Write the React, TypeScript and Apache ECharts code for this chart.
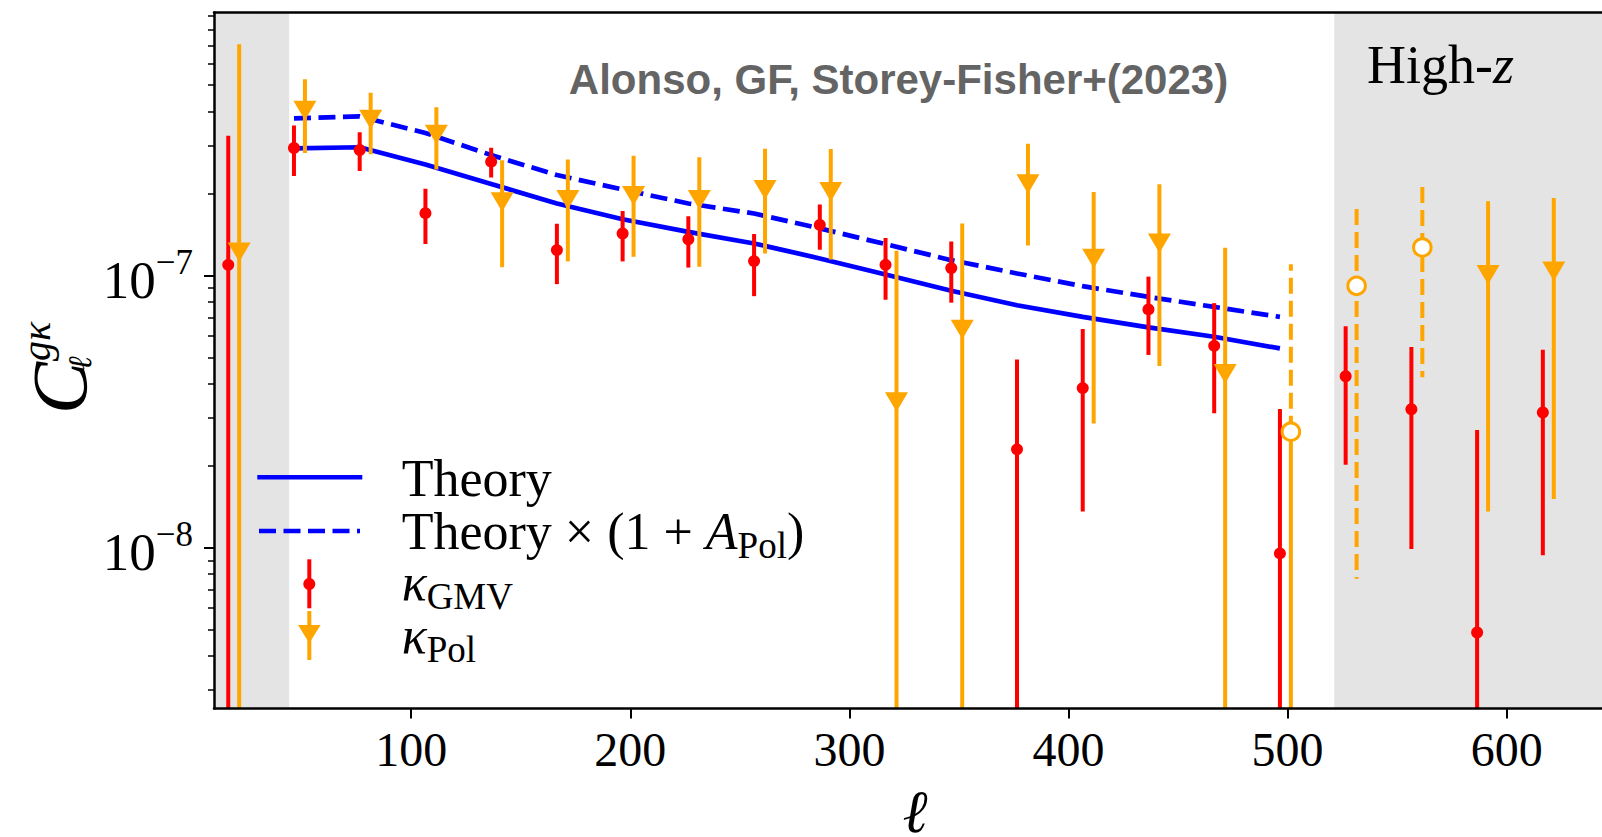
import React, { useEffect, useRef } from "react";
import * as echarts from "echarts";

const SERIF = '"Liberation Serif", "DejaVu Serif", serif';
const SANS = '"Liberation Sans", Arial, sans-serif';

// ---------- data ----------
const ellTheory = [46.5, 76.5, 106.5, 136.5, 166.5, 196.5, 226.5, 256.5, 286.5, 316.5, 346.5, 376.5, 406.5, 436.5, 466.5, 496.5];
const theory = [2.93e-7, 2.96e-7, 2.56e-7, 2.17e-7, 1.84e-7, 1.61e-7, 1.447e-7, 1.312e-7, 1.156e-7, 1.009e-7, 8.79e-8, 7.78e-8, 7.05e-8, 6.45e-8, 5.96e-8, 5.4e-8];
const theoryPol = [3.78e-7, 3.84e-7, 3.34e-7, 2.77e-7, 2.34e-7, 2.07e-7, 1.84e-7, 1.69e-7, 1.49e-7, 1.304e-7, 1.139e-7, 1.018e-7, 9.14e-8, 8.35e-8, 7.67e-8, 7.05e-8];

const ellGMV = [16.5, 46.5, 76.5, 106.5, 136.5, 166.5, 196.5, 226.5, 256.5, 286.5, 316.5, 346.5, 376.5, 406.5, 436.5, 466.5, 496.5, 526.5, 556.5, 586.5, 616.5];
const gmvVal = [1.095e-7, 2.94e-7, 2.89e-7, 1.695e-7, 2.62e-7, 1.24e-7, 1.427e-7, 1.36e-7, 1.13e-7, 1.535e-7, 1.095e-7, 1.065e-7, 2.3e-8, 3.86e-8, 7.51e-8, 5.52e-8, 9.54e-9, 4.27e-8, 3.23e-8, 4.89e-9, 3.14e-8];
const gmvErr = [2.17e-7, 6.2e-8, 4.7e-8, 3.9e-8, 3.3e-8, 3.1e-8, 3.0e-8, 2.9e-8, 2.9e-8, 2.9e-8, 2.8e-8, 2.7e-8, 2.62e-8, 2.5e-8, 2.4e-8, 2.4e-8, 2.28e-8, 2.25e-8, 2.24e-8, 2.22e-8, 2.2e-8];

const ellPol = [21.5, 51.5, 81.5, 111.5, 141.5, 171.5, 201.5, 231.5, 261.5, 291.5, 321.5, 351.5, 381.5, 411.5, 441.5, 471.5, 501.5, 531.5, 561.5, 591.5, 621.5];
// negative values are drawn as |C| with open markers and dashed bars
const polVal = [1.219e-7, 4.04e-7, 3.74e-7, 3.3e-7, 1.863e-7, 1.897e-7, 1.962e-7, 1.897e-7, 2.064e-7, 2.03e-7, 3.43e-8, 6.34e-8, 2.17e-7, 1.156e-7, 1.315e-7, 4.36e-8, -2.67e-8, -9.17e-8, -1.268e-7, 1.006e-7, 1.038e-7];
const polErr = [5.85e-7, 1.22e-7, 9.5e-8, 8.5e-8, 7.9e-8, 7.7e-8, 7.9e-8, 8.2e-8, 8.6e-8, 8.85e-8, 8.9e-8, 9.2e-8, 8.8e-8, 8.7e-8, 8.5e-8, 8.3e-8, 8.34e-8, 8.4e-8, 8.45e-8, 8.7e-8, 8.87e-8];

const shadeRanges = [[10, 44.3], [521.3, 660]];
const xTicks = [100, 200, 300, 400, 500, 600];
const yMajor = [1e-8, 1e-7];
const yMinor = [3e-9, 4e-9, 5e-9, 6e-9, 7e-9, 8e-9, 9e-9, 2e-8, 3e-8, 4e-8, 5e-8, 6e-8, 7e-8, 8e-8, 9e-8, 2e-7, 3e-7, 4e-7, 5e-7, 6e-7, 7e-7, 8e-7, 9e-7];

const X_MIN = 10, X_MAX = 643.5, Y_MIN = 2.57e-9, Y_MAX = 9.25e-7;

const BLUE = "#0000ff", RED = "#ff0000", ORANGE = "#ffa500";

function errData(ell: number[], val: number[], err: number[]) {
  return ell.map((l, i) => {
    const v = Math.abs(val[i]);
    const lo = v - err[i];
    return [l, Math.max(lo, Y_MIN), Math.min(v + err[i], Y_MAX), val[i] < 0 ? 1 : 0, v, lo <= Y_MIN ? 1 : 0];
  });
}

function errRender(color: string) {
  return (params: any, api: any) => {
    const x = api.value(0);
    const lo = api.value(1);
    const hi = api.value(2);
    const neg = api.value(3);
    const mid = api.value(4);
    const clipped = api.value(5);
    const pLo = api.coord([x, lo]);
    const pHi = api.coord([x, hi]);
    const pMid = api.coord([x, mid]);
    const base = { stroke: color, lineWidth: 4, lineCap: "butt" };
    const dash = [16, 7];
    const children: any[] = [];
    if (!neg) {
      children.push({ type: "line", shape: { x1: pLo[0], y1: pLo[1], x2: pHi[0], y2: pHi[1] }, style: base });
    } else if (clipped) {
      children.push({ type: "line", shape: { x1: pMid[0], y1: pMid[1], x2: pHi[0], y2: pHi[1] }, style: { ...base, lineDash: dash } });
      children.push({ type: "line", shape: { x1: pLo[0], y1: pLo[1], x2: pMid[0], y2: pMid[1] }, style: base });
    } else {
      children.push({ type: "line", shape: { x1: pHi[0], y1: pHi[1], x2: pLo[0], y2: pLo[1] }, style: { ...base, lineDash: dash } });
    }
    return { type: "group", children };
  };
}

function buildOption(): any {
  const theoryData = ellTheory.map((l, i) => [l, theory[i]]);
  const theoryPolData = ellTheory.map((l, i) => [l, theoryPol[i]]);
  const gmvPts = ellGMV.map((l, i) => [l, gmvVal[i]]);
  const polPos = ellPol.map((l, i) => [l, polVal[i]]).filter((d) => d[1] > 0);
  const polNeg = ellPol.map((l, i) => [l, Math.abs(polVal[i]), polVal[i]]).filter((d) => d[2] < 0).map((d) => [d[0], d[1]]);

  const axisLineStyle = { color: "#000", width: 2.5 };
  const txt = (o: any) => ({ fill: "#000", fontFamily: SERIF, ...o });
  const legRich = {
    m: txt({ fontSize: 52, lineHeight: 64 }),
    i: txt({ fontSize: 52, lineHeight: 64, fontStyle: "italic" }),
    s: txt({ fontSize: 37, lineHeight: 37, verticalAlign: "bottom" }),
  };

  return {
    animation: false,
    backgroundColor: "#fff",
    grid: { left: 214, right: 0, top: 12.5, bottom: 128.5, containLabel: false },
    xAxis: [
      {
        type: "value", min: X_MIN, max: X_MAX, position: "bottom", z: 10,
        axisLine: { show: true, onZero: false, lineStyle: axisLineStyle },
        axisTick: { show: true, customValues: xTicks, length: 10, lineStyle: { color: "#000", width: 2 } },
        axisLabel: { show: true, customValues: xTicks, margin: 17, fontFamily: SERIF, fontSize: 48, lineHeight: 48, color: "#000" },
        splitLine: { show: false },
      },
      {
        type: "value", min: X_MIN, max: X_MAX, position: "top", z: 10,
        axisLine: { show: true, onZero: false, lineStyle: axisLineStyle },
        axisTick: { show: false }, axisLabel: { show: false }, splitLine: { show: false },
      },
    ],
    yAxis: [
      {
        type: "log", logBase: 10, min: Y_MIN, max: Y_MAX, position: "left", z: 10,
        axisLine: { show: true, onZero: false, lineStyle: axisLineStyle },
        axisTick: { show: true, customValues: yMajor, length: 10, lineStyle: { color: "#000", width: 2 } },
        axisLabel: {
          show: true, customValues: yMajor, margin: 21,
          formatter: (v: number) => `{b|10}{s|\u2212${Math.abs(Math.round(Math.log10(v)))}}`,
          rich: {
            b: { fontFamily: SERIF, fontSize: 53, lineHeight: 62, verticalAlign: "bottom", color: "#000" },
            s: { fontFamily: SERIF, fontSize: 35, lineHeight: 34, verticalAlign: "top", color: "#000" },
          },
        },
        splitLine: { show: false }, minorTick: { show: false },
      },
      {
        type: "log", logBase: 10, min: Y_MIN, max: Y_MAX, position: "left", z: 10,
        axisLine: { show: false },
        axisTick: { show: true, customValues: yMinor, length: 6, lineStyle: { color: "#000", width: 1.5 } },
        axisLabel: { show: false }, splitLine: { show: false },
      },
    ],
    series: [
      {
        type: "custom", name: "shade", z: 1, silent: true, clip: true,
        data: shadeRanges,
        dimensions: ["x0", "x1"],
        encode: { x: [0, 1] },
        renderItem: (params: any, api: any) => {
          const cs = params.coordSys;
          const x1 = api.coord([api.value(0), Y_MAX])[0];
          const x2 = api.coord([api.value(1), Y_MAX])[0];
          const r = echarts.graphic.clipRectByRect({ x: x1, y: cs.y, width: x2 - x1, height: cs.height }, cs);
          return r ? { type: "rect", shape: r, style: { fill: "#e4e4e4" } } : null;
        },
      },
      {
        type: "line", name: "Theory", data: theoryData, symbol: "none", z: 3,
        lineStyle: { color: BLUE, width: 4.7 },
      },
      {
        type: "line", name: "TheoryPol", data: theoryPolData, symbol: "none", z: 3,
        lineStyle: { color: BLUE, width: 4.7, type: [17, 7.5] },
      },
      {
        type: "custom", name: "gmvErr", z: 4, clip: true,
        data: errData(ellGMV, gmvVal, gmvErr),
        dimensions: ["x", "lo", "hi", "neg", "mid", "clip"],
        encode: { x: 0, y: [1, 2] },
        renderItem: errRender(RED),
      },
      {
        type: "scatter", name: "gmv", data: gmvPts, z: 5, symbol: "circle", symbolSize: 12,
        itemStyle: { color: RED, opacity: 1 },
      },
      {
        type: "custom", name: "polErr", z: 6, clip: true,
        data: errData(ellPol, polVal, polErr),
        dimensions: ["x", "lo", "hi", "neg", "mid", "clip"],
        encode: { x: 0, y: [1, 2] },
        renderItem: errRender(ORANGE),
      },
      {
        type: "scatter", name: "pol", data: polPos, z: 7, symbol: "triangle", symbolRotate: 180, symbolSize: [23, 19.5],
        itemStyle: { color: ORANGE, opacity: 1 },
      },
      {
        type: "scatter", name: "polNeg", data: polNeg, z: 7, symbol: "circle", symbolSize: 17.5,
        itemStyle: { color: "#ffffff", borderColor: ORANGE, borderWidth: 3, opacity: 1 },
      },
    ],
    graphic: [
      {
        type: "text", x: 898.5, y: 79.1, z: 20,
        style: { text: "Alonso, GF, Storey-Fisher+(2023)", fontFamily: SANS, fontWeight: "bold", fontSize: 42, fill: "#646464", align: "center", verticalAlign: "middle" },
      },
      {
        type: "text", x: 1367, y: 64.5, z: 20,
        style: {
          text: "{r|High-}{i|z}", align: "left", verticalAlign: "middle",
          rich: {
            r: txt({ fontSize: 54, lineHeight: 64 }),
            i: txt({ fontSize: 54, lineHeight: 64, fontStyle: "italic" }),
          },
        },
      },
      // y-axis label C_ell^{g kappa}
      {
        type: "group", x: 86, y: 414, rotation: Math.PI / 2, z: 20,
        children: [
          { type: "text", x: 0, y: -26.3, style: txt({ text: "C", fontSize: 78, fontStyle: "italic", align: "left", verticalAlign: "middle" }) },
          { type: "text", x: 53, y: -50, style: txt({ text: "g\u03ba", fontSize: 40, fontStyle: "italic", align: "left", verticalAlign: "middle" }) },
          { type: "text", x: 44, y: -6, style: txt({ text: "\u2113", fontSize: 33, fontStyle: "italic", align: "left", verticalAlign: "middle" }) },
        ],
      },
      // x-axis label
      { type: "text", x: 915, y: 812, z: 20, style: txt({ text: "\u2113", fontSize: 60, fontStyle: "italic", align: "center", verticalAlign: "middle" }) },
      // legend
      { type: "line", z: 20, shape: { x1: 257.3, y1: 477.3, x2: 362.3, y2: 477.3 }, style: { stroke: BLUE, lineWidth: 4.5 } },
      { type: "line", z: 20, shape: { x1: 259, y1: 531, x2: 360, y2: 531 }, style: { stroke: BLUE, lineWidth: 4.5, lineDash: [17, 7.5] } },
      { type: "line", z: 20, shape: { x1: 309.3, y1: 559.3, x2: 309.3, y2: 608.3 }, style: { stroke: RED, lineWidth: 4 } },
      { type: "circle", z: 21, shape: { cx: 309.3, cy: 584, r: 6 }, style: { fill: RED } },
      { type: "line", z: 20, shape: { x1: 309.3, y1: 611, x2: 309.3, y2: 660 }, style: { stroke: ORANGE, lineWidth: 4 } },
      { type: "polygon", z: 21, shape: { points: [[298, 625], [320.6, 625], [309.3, 643.3]] }, style: { fill: ORANGE } },
      { type: "text", x: 401.7, y: 478.5, z: 20, style: txt({ text: "Theory", fontSize: 52, align: "left", verticalAlign: "middle" }) },
      {
        type: "text", x: 401.7, y: 531.8, z: 20,
        style: { text: "{m|Theory \u00d7 (1 + }{i|A}{s|Pol}{m|)}", align: "left", verticalAlign: "middle", rich: legRich },
      },
      {
        type: "text", x: 401.7, y: 582.5, z: 20,
        style: { text: "{i|\u03ba}{s|GMV}", align: "left", verticalAlign: "middle", rich: legRich },
      },
      {
        type: "text", x: 401.7, y: 635.8, z: 20,
        style: { text: "{i|\u03ba}{s|Pol}", align: "left", verticalAlign: "middle", rich: legRich },
      },
    ],
  };
}

export default function App() {
  const ref = useRef<HTMLDivElement>(null);
  useEffect(() => {
    document.body.style.margin = "0";
    if (!ref.current) return;
    const chart = echarts.init(ref.current, null, { renderer: "svg" });
    chart.setOption(buildOption());
    return () => chart.dispose();
  }, []);
  return <div ref={ref} style={{ width: 1602, height: 837, position: "absolute", left: 0, top: 0 }} />;
}
